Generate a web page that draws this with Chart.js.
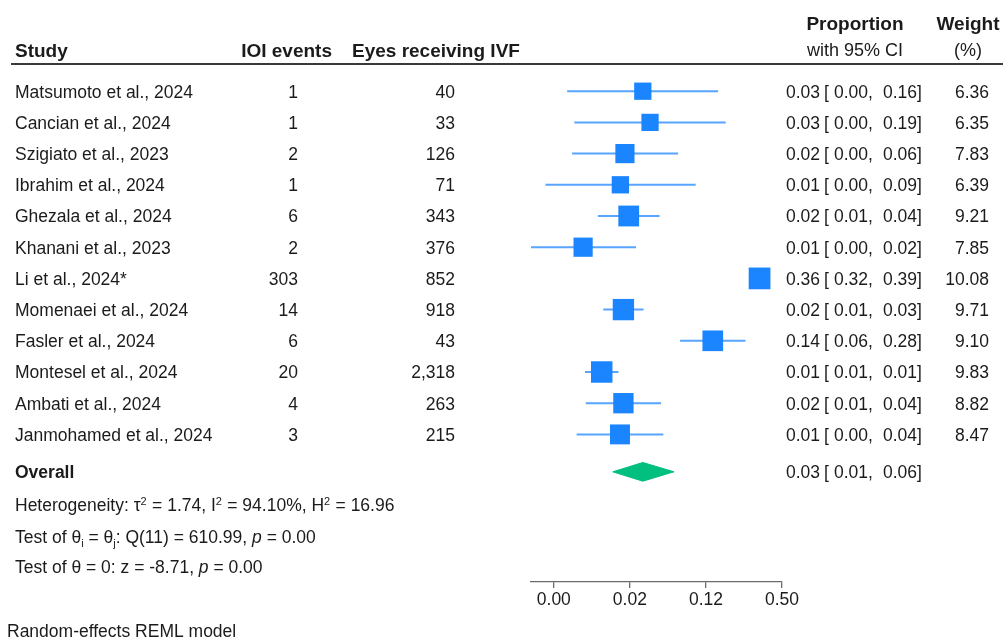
<!DOCTYPE html>
<html>
<head>
<meta charset="utf-8">
<script src="https://cdn.jsdelivr.net/npm/chart.js@4.4.1/dist/chart.umd.min.js"></script>
<style>
  html, body { margin: 0; padding: 0; background: #ffffff; }
  #wrap { width: 1003px; height: 642px; position: relative; }
</style>
</head>
<body>
<div id="wrap"><canvas id="c"></canvas></div>
<script>
// ---------------- data ----------------
const studies = [
  "Matsumoto et al., 2024", "Cancian et al., 2024", "Szigiato et al., 2023",
  "Ibrahim et al., 2024", "Ghezala et al., 2024", "Khanani et al., 2023",
  "Li et al., 2024*", "Momenaei et al., 2024", "Fasler et al., 2024",
  "Montesel et al., 2024", "Ambati et al., 2024", "Janmohamed et al., 2024"
];
const ioiEvents = [1, 1, 2, 1, 6, 2, 303, 14, 6, 20, 4, 3];
const eyesIVF   = [40, 33, 126, 71, 343, 376, 852, 918, 43, 2318, 263, 215];
// displayed proportions with 95% CI
const propEst   = [0.03, 0.03, 0.02, 0.01, 0.02, 0.01, 0.36, 0.02, 0.14, 0.01, 0.02, 0.01];
const propLow   = [0.00, 0.00, 0.00, 0.00, 0.01, 0.00, 0.32, 0.01, 0.06, 0.01, 0.01, 0.00];
const propHigh  = [0.16, 0.19, 0.06, 0.09, 0.04, 0.02, 0.39, 0.03, 0.28, 0.01, 0.04, 0.04];
const weights   = [6.36, 6.35, 7.83, 6.39, 9.21, 7.85, 10.08, 9.71, 9.10, 9.83, 8.82, 8.47];
const logitEst  = [-3.66, -3.47, -4.13, -4.25, -4.03, -5.23, -0.59, -4.17, -1.82, -4.74, -4.17, -4.26];
const logitLow  = [-5.65, -5.46, -5.52, -6.22, -4.84, -6.62, -0.74, -4.70, -2.68, -5.18, -5.16, -5.40];
const logitHigh = [-1.68, -1.48, -2.73, -2.27, -3.22, -3.84, -0.45, -3.64, -0.96, -4.30, -3.18, -3.12];
// overall (random effects)
const overallProp  = [0.03, 0.01, 0.06];          // estimate, low, high
const overallLogit = [-3.66, -4.45, -2.84];       // estimate, low, high
// x-axis ticks (logit scale) and their labels (proportions)
const tickValues = [-6, -4, -2, 0];
const tickLabels = ["0.00", "0.02", "0.12", "0.50"];
const hetLine  = [{t: "Heterogeneity: \u03C4"}, {t: "2", sup: true}, {t: " = 1.74, I"}, {t: "2", sup: true},
                  {t: " = 94.10%, H"}, {t: "2", sup: true}, {t: " = 16.96"}];
const testLine1 = [{t: "Test of \u03B8"}, {t: "i", sub: true}, {t: " = \u03B8"}, {t: "j", sub: true},
                   {t: ": Q(11) = 610.99, "}, {t: "p", it: true}, {t: " = 0.00"}];
const testLine2 = [{t: "Test of \u03B8 = 0: z = -8.71, "}, {t: "p", it: true}, {t: " = 0.00"}];
const footNote = "Random-effects REML model";

// ---------------- styling ----------------
const FONT = "'Liberation Sans', Arial, Helvetica, sans-serif";
const TXT = "#1b1b1b";
const BLUE = "#1A85FF";
const CI_BLUE = "rgba(40,140,255,0.78)";
const GREEN = "#00BF7F";
const ROW_PX = 31.2;
const OVERALL_ROW = 13.2;
const DIAMOND_HALF = 0.30;   // half-height in row units
const FS = 17.5;             // regular text size
const FSB = 19;              // bold header size

// ---------------- datasets ----------------
const rows = studies.map((s, i) => i + 1);
const ciData = [];
rows.forEach((r, i) => {
  ciData.push({x: logitLow[i], y: r}, {x: logitHigh[i], y: r}, {x: null, y: null});
});
const pointData = rows.map((r, i) => ({x: logitEst[i], y: r}));
const diamondData = [
  {x: overallLogit[1], y: OVERALL_ROW},
  {x: overallLogit[0], y: OVERALL_ROW - DIAMOND_HALF},
  {x: overallLogit[2], y: OVERALL_ROW},
  {x: overallLogit[0], y: OVERALL_ROW + DIAMOND_HALF},
  {x: overallLogit[1], y: OVERALL_ROW}
];

function f2(v) { return v.toFixed(2); }

function drawRich(ctx, x, y, parts, size) {
  let cx = x;
  parts.forEach(p => {
    let s = size, dy = 0, style = "";
    if (p.sub) { s = Math.round(size * 0.62); dy = 4; }
    if (p.sup) { s = Math.round(size * 0.62); dy = -6.5; }
    if (p.it) { style = "italic "; }
    ctx.font = style + s + "px " + FONT;
    ctx.textAlign = "left";
    ctx.fillText(p.t, cx, y + dy);
    cx += ctx.measureText(p.t).width + (p.sup ? 0.5 : 0);
  });
}

function drawCI(ctx, y, est, lo, hi) {
  ctx.textAlign = "right";
  ctx.fillText(f2(est), 820, y);
  ctx.textAlign = "left";
  ctx.fillText("[", 824, y);
  ctx.textAlign = "right";
  ctx.fillText(f2(lo), 868, y);
  ctx.textAlign = "left";
  ctx.fillText(",", 868, y);
  ctx.textAlign = "right";
  ctx.fillText(f2(hi), 917, y);
  ctx.textAlign = "left";
  ctx.fillText("]", 917, y);
}

const textPlugin = {
  id: "forestText",
  afterDraw(chart) {
    const ctx = chart.ctx;
    const ys = chart.scales.y;
    const rowY = v => ys.getPixelForValue(v);
    ctx.save();
    ctx.fillStyle = TXT;
    ctx.textBaseline = "alphabetic";
    const base = 6.4;

    // headers
    ctx.font = "bold " + FSB + "px " + FONT;
    ctx.textAlign = "left";
    ctx.fillText("Study", 15, 57);
    ctx.textAlign = "right";
    ctx.fillText("IOI events", 332, 57);
    ctx.textAlign = "left";
    ctx.fillText("Eyes receiving IVF", 352, 57);
    ctx.textAlign = "center";
    ctx.fillText("Proportion", 855, 30);
    ctx.fillText("Weight", 968, 30);
    ctx.font = "18px " + FONT;
    ctx.fillText("with 95% CI", 855, 56);
    ctx.fillText("(%)", 968, 56);

    // header rule
    ctx.strokeStyle = "#3a3a3a";
    ctx.lineWidth = 2;
    ctx.beginPath();
    ctx.moveTo(11, 64);
    ctx.lineTo(1003, 64);
    ctx.stroke();

    // study rows
    ctx.font = FS + "px " + FONT;
    rows.forEach((r, i) => {
      const y = rowY(r) + base;
      ctx.textAlign = "left";
      ctx.fillText(studies[i], 15, y);
      ctx.textAlign = "right";
      ctx.fillText(String(ioiEvents[i]), 298, y);
      ctx.fillText(eyesIVF[i].toLocaleString("en-US"), 455, y);
      drawCI(ctx, y, propEst[i], propLow[i], propHigh[i]);
      ctx.textAlign = "right";
      ctx.fillText(f2(weights[i]), 989, y);
    });

    // overall row
    const oy = rowY(OVERALL_ROW) + base;
    ctx.font = "bold " + FS + "px " + FONT;
    ctx.textAlign = "left";
    ctx.fillText("Overall", 15, oy);
    ctx.font = FS + "px " + FONT;
    drawCI(ctx, oy, overallProp[0], overallProp[1], overallProp[2]);

    // statistics notes
    drawRich(ctx, 15, rowY(14.26) + base, hetLine, FS);
    drawRich(ctx, 15, rowY(15.26) + base, testLine1, FS);
    drawRich(ctx, 15, rowY(16.25) + base, testLine2, FS);

    // footnote
    ctx.font = FS + "px " + FONT;
    ctx.textAlign = "left";
    ctx.fillText(footNote, 7, 637);
    ctx.restore();
  }
};

new Chart(document.getElementById("c"), {
  type: "scatter",
  data: {
    datasets: [
      {
        type: "scatter",
        data: pointData,
        order: 0,
        pointStyle: "rect",
        backgroundColor: BLUE,
        borderWidth: 0,
        pointBorderWidth: 0,
        pointRadius: ctx => (6.85 * Math.sqrt(weights[ctx.dataIndex] || 0)) / Math.SQRT2,
        pointHoverRadius: ctx => (6.85 * Math.sqrt(weights[ctx.dataIndex] || 0)) / Math.SQRT2
      },
      {
        type: "line",
        data: ciData,
        order: 2,
        borderColor: CI_BLUE,
        borderWidth: 2,
        pointRadius: 0,
        spanGaps: false,
        fill: false,
        tension: 0
      },
      {
        type: "line",
        data: diamondData,
        order: 1,
        borderColor: GREEN,
        backgroundColor: GREEN,
        borderWidth: 1,
        pointRadius: 0,
        fill: "shape",
        tension: 0
      }
    ]
  },
  options: {
    responsive: true,
    maintainAspectRatio: false,
    animation: false,
    events: [],
    layout: { padding: { left: 531, right: 221, top: 60, bottom: 28 } },
    plugins: { legend: { display: false }, tooltip: { enabled: false } },
    scales: {
      x: {
        type: "linear",
        position: "bottom",
        min: -6.6,
        max: 0,
        afterBuildTicks: scale => { scale.ticks = tickValues.map(v => ({ value: v })); },
        afterFit: scale => { scale.height = 32; },
        border: { display: true, color: "#6b6b6b", width: 1.3 },
        grid: { drawOnChartArea: false, drawTicks: true, tickLength: 6, color: "#6b6b6b", lineWidth: 1.3 },
        ticks: {
          autoSkip: false,
          maxRotation: 0,
          padding: 2,
          color: TXT,
          font: { family: FONT, size: FS },
          callback: v => { const k = tickValues.indexOf(v); return k >= 0 ? tickLabels[k] : ""; }
        }
      },
      y: {
        type: "linear",
        display: false,
        reverse: true,
        min: 0,
        max: 522 / ROW_PX
      }
    }
  },
  plugins: [textPlugin]
});
</script>
</body>
</html>
